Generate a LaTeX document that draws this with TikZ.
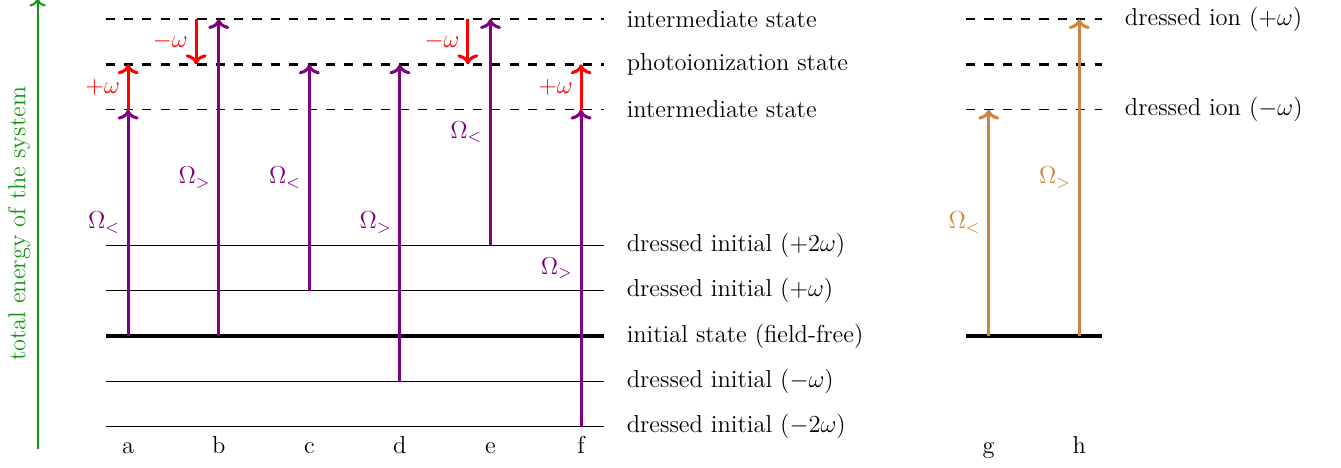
\documentclass[tikz,border=0pt]{standalone}
\usetikzlibrary{arrows.meta,calc}
\definecolor{mypurple}{RGB}{128,0,128}
\definecolor{myorange}{RGB}{205,133,63}
\definecolor{mygreen}{RGB}{20,150,20}
\begin{document}
\begin{tikzpicture}[x=0.78cm,y=0.78cm,
  every node/.style={font=\large},
  lvl/.style={line width=0.7pt},
  lvlthick/.style={line width=1.6pt},
  lvldash/.style={line width=0.7pt,dash pattern=on 4.5pt off 4.5pt},
  lvldashthick/.style={line width=1.6pt,dash pattern=on 4.5pt off 4.5pt},
  lab/.style={anchor=west,inner sep=0pt},
  axisarr/.style={->,color=mygreen,line width=1pt},
  parr/.style={->,mypurple,line width=1.5pt},
  oarr/.style={->,myorange,line width=1.5pt},
  rarr/.style={->,red,line width=1.5pt},
  plab/.style={text=mypurple,left},
  olab/.style={text=myorange,left},
  rlab/.style={text=red,left},
  letter/.style={anchor=base}]
\useasboundingbox (-2.83,-2.91) rectangle (26.78,7.42);
% energy axis
\coordinate (ax0) at (-2,-2.5);
\coordinate (ax1) at (-2,7.45);
\draw[axisarr] (ax0) -- (ax1);
\node[rotate=90,text=mygreen,anchor=south] (axlab) at ($(ax0)!0.5!(ax1)$) {total energy of the system};
% left levels
\foreach \n/\y in {m2/-2,m1/-1,p1/1,p2/2}{
  \coordinate (L\n) at (-0.5,\y); \coordinate (R\n) at (10.5,\y);
  \draw[lvl] (L\n) -- (R\n);
}
\coordinate (Li) at (-0.5,0); \coordinate (Ri) at (10.5,0);
\draw[lvlthick] (Li) -- (Ri);
\coordinate (Llo) at (-0.5,5); \coordinate (Rlo) at (10.5,5);
\draw[lvldash] (Llo) -- (Rlo);
\coordinate (Lhi) at (-0.5,7); \coordinate (Rhi) at (10.5,7);
\draw[lvldash] (Lhi) -- (Rhi);
\coordinate (Lpi) at (-0.5,6); \coordinate (Rpi) at (10.5,6);
\draw[lvldashthick] (Lpi) -- (Rpi);
% level labels
\node[lab] (thi) at (11,7) {intermediate state};
\node[lab] (tpi) at (11,6) {photoionization state};
\node[lab] (tlo) at (11,5) {intermediate state};
\node[lab] (tp2) at (11,2) {dressed initial $(+2\omega)$};
\node[lab] (tp1) at (11,1) {dressed initial $(+\omega)$};
\node[lab] (ti) at (11,0) {initial state (field-free)};
\node[lab] (tm1) at (11,-1) {dressed initial $(-\omega)$};
\node[lab] (tm2) at (11,-2) {dressed initial $(-2\omega)$};
% right levels
\coordinate (GLhi) at (18.5,7); \coordinate (GRhi) at (21.5,7);
\draw[lvldash] (GLhi) -- (GRhi);
\coordinate (GLpi) at (18.5,6); \coordinate (GRpi) at (21.5,6);
\draw[lvldashthick] (GLpi) -- (GRpi);
\coordinate (GLlo) at (18.5,5); \coordinate (GRlo) at (21.5,5);
\draw[lvldash] (GLlo) -- (GRlo);
\coordinate (GLi) at (18.5,0); \coordinate (GRi) at (21.5,0);
\draw[lvlthick] (GLi) -- (GRi);
\node[lab] (dhi) at (22,7) {dressed ion $(+\omega)$};
\node[lab] (dlo) at (22,5) {dressed ion $(-\omega)$};
% arrow endpoints
\coordinate (a0) at (0,0);  \coordinate (a1) at (0,5);  \coordinate (a2) at (0,6);
\coordinate (b0) at (2,0);  \coordinate (b1) at (2,7);
\coordinate (br0) at (1.5,7); \coordinate (br1) at (1.5,6);
\coordinate (c0) at (4,1);  \coordinate (c1) at (4,6);
\coordinate (d0) at (6,-1); \coordinate (d1) at (6,6);
\coordinate (e0) at (8,2);  \coordinate (e1) at (8,7);
\coordinate (er0) at (7.5,7); \coordinate (er1) at (7.5,6);
\coordinate (f0) at (10,-2); \coordinate (f1) at (10,5); \coordinate (f2) at (10,6);
\coordinate (g0) at (19,0); \coordinate (g1) at (19,5);
\coordinate (h0) at (21,0); \coordinate (h1) at (21,7);
% purple arrows
\draw[parr] (a0) -- (a1) node[midway,plab] {$\Omega_<$};
\draw[parr] (b0) -- (b1) node[midway,plab] {$\Omega_>$};
\draw[parr] (c0) -- (c1) node[midway,plab] {$\Omega_<$};
\draw[parr] (d0) -- (d1) node[midway,plab] {$\Omega_>$};
\draw[parr] (e0) -- (e1) node[midway,plab] {$\Omega_<$};
\draw[parr] (f0) -- (f1) node[midway,plab] {$\Omega_>$};
% red arrows
\draw[rarr] (a1) -- (a2) node[midway,rlab] {$+\omega$};
\draw[rarr] (br0) -- (br1) node[midway,rlab] {$-\omega$};
\draw[rarr] (er0) -- (er1) node[midway,rlab] {$-\omega$};
\draw[rarr] (f1) -- (f2) node[midway,rlab] {$+\omega$};
% orange arrows
\draw[oarr] (g0) -- (g1) node[midway,olab] {$\Omega_<$};
\draw[oarr] (h0) -- (h1) node[midway,olab] {$\Omega_>$};
% letters
\node[letter] (la) at (0,-2.6) {a};
\node[letter] (lb) at (2,-2.6) {b};
\node[letter] (lc) at (4,-2.6) {c};
\node[letter] (ld) at (6,-2.6) {d};
\node[letter] (le) at (8,-2.6) {e};
\node[letter] (lf) at (10,-2.6) {f};
\node[letter] (lg) at (19,-2.6) {g};
\node[letter] (lh) at (21,-2.6) {h};
\end{tikzpicture}
\end{document}
